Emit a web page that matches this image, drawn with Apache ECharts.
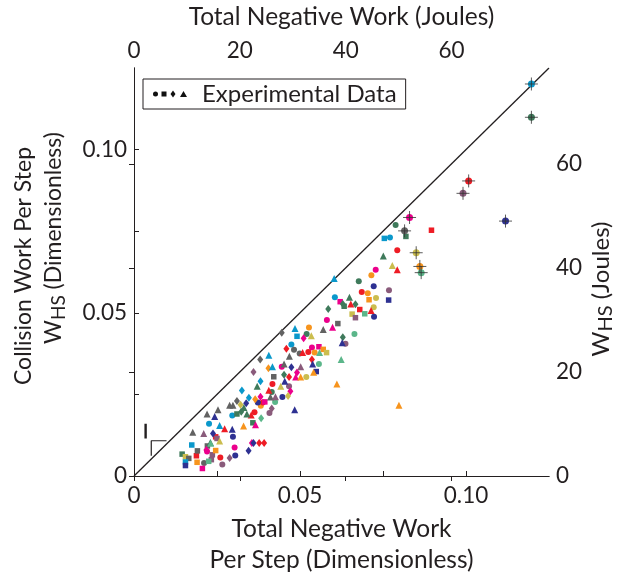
<!DOCTYPE html>
<html>
<head>
<meta charset="utf-8">
<script src="https://cdn.jsdelivr.net/npm/echarts@6/dist/echarts.min.js"></script>
<style>
html,body{margin:0;padding:0;background:#fff;}
#chart{width:617px;height:581px;}
</style>
</head>
<body>
<div id="chart"></div>
<script>
// ---- data (x = total negative work per step, y = collision work per step, subject index) ----
const xTicks = [0, 0.05, 0.10];
const xTickLabels = ['0', '0.05', '0.10'];
const jouleTickLabels = ['0', '20', '40', '60'];
const dimMax = 0.125;
const jouleMax = 78.4;
const legendLabel = 'Experimental Data';

const circles = [
  [0.0788,0.0769,4],[0.0771,0.0731,6],[0.0793,0.0692,0],[0.0728,0.0632,1],[0.0715,0.0615,2],
  [0.0677,0.0597,4],[0.0722,0.0581,7],[0.0768,0.0569,9],[0.0686,0.0564,0],[0.0704,0.0560,2],
  [0.0605,0.0548,6],[0.0729,0.0545,3],[0.0722,0.0517,3],[0.0723,0.0488,7],[0.0581,0.0478,1],
  [0.0527,0.0455,2],[0.0520,0.0435,4],[0.0664,0.0435,5],[0.0637,0.0405,9],[0.0474,0.0403,6],
  [0.0482,0.0387,8],[0.0536,0.0394,1],[0.0525,0.0380,0],[0.0544,0.0378,2],[0.0499,0.0375,8],
  [0.0557,0.0343,5],[0.0445,0.0335,1],[0.0519,0.0303,3],[0.0467,0.0275,9],[0.0417,0.0282,0],
  [0.0415,0.0257,4],[0.0447,0.0242,7],[0.0382,0.0215,2],[0.0388,0.0225,0],[0.0373,0.0225,7],
  [0.0408,0.0193,9],[0.0363,0.0195,0],[0.0296,0.0185,6],[0.0226,0.0160,6],[0.0298,0.0120,7],
  [0.0303,0.0087,1],[0.0220,0.0075,1],[0.0305,0.0063,7],[0.0260,0.0057,0],[0.0266,0.0035,9],
  [0.0211,0.0040,8],[0.0425,0.0227,5]
];
const squares = [
  [0.0896,0.0753,0],[0.0754,0.0728,6],[0.0819,0.0734,4],[0.0708,0.0540,2],[0.0767,0.0539,7],
  [0.0621,0.0534,1],[0.0633,0.0520,4],[0.0680,0.0510,0],[0.0657,0.0496,3],[0.0695,0.0497,5],
  [0.0667,0.0485,9],[0.0614,0.0467,8],[0.0491,0.0428,6],[0.0557,0.0396,1],[0.0570,0.0388,2],
  [0.0580,0.0378,3],[0.0549,0.0320,7],[0.0421,0.0304,8],[0.0358,0.0163,4],[0.0174,0.0095,6],
  [0.0221,0.0092,8],[0.0145,0.0067,4],[0.0155,0.0059,3],[0.0165,0.0054,8],[0.0188,0.0062,0],
  [0.0155,0.0043,6],[0.0155,0.0032,7],[0.0190,0.0042,2],[0.0206,0.0023,1],[0.0236,0.0065,9],
  [0.0233,0.0050,9],[0.0246,0.0078,2],[0.0191,0.0077,8],[0.0394,0.0227,1],[0.0225,0.0045,5],
  [0.0310,0.0190,4],[0.0246,0.0120,0],[0.0250,0.0115,9]
];
const diamonds = [
  [0.0629,0.0527,4],[0.0667,0.0526,4],[0.0585,0.0512,4],[0.0445,0.0439,8],[0.0511,0.0422,1],
  [0.0629,0.0425,4],[0.0459,0.0390,0],[0.0536,0.0357,0],[0.0380,0.0357,8],[0.0360,0.0319,9],
  [0.0405,0.0330,2],[0.0474,0.0333,7],[0.0491,0.0317,1],[0.0467,0.0303,0],[0.0452,0.0310,4],
  [0.0381,0.0290,6],[0.0471,0.0260,1],[0.0325,0.0262,6],[0.0381,0.0243,1],[0.0464,0.0245,3],
  [0.0310,0.0230,8],[0.0346,0.0240,6],[0.0321,0.0218,3],[0.0338,0.0223,7],[0.0365,0.0235,2],
  [0.0415,0.0207,9],[0.0383,0.0177,5],[0.0238,0.0130,7],[0.0355,0.0101,1],[0.0360,0.0101,7],
  [0.0377,0.0101,0],[0.0392,0.0101,0],[0.0345,0.0077,7],[0.0288,0.0055,9],[0.0218,0.0080,1],
  [0.0323,0.0197,4]
];
const triangles = [
  [0.0751,0.0674,4],[0.0778,0.0645,3],[0.0793,0.0632,0],[0.0603,0.0605,6],[0.0649,0.0548,4],
  [0.0653,0.0527,0],[0.0714,0.0507,0],[0.0598,0.0456,1],[0.0570,0.0449,8],[0.0485,0.0452,6],
  [0.0534,0.0430,3],[0.0627,0.0408,7],[0.0508,0.0378,0],[0.0559,0.0378,5],[0.0468,0.0367,8],
  [0.0624,0.0357,5],[0.0406,0.0370,6],[0.0417,0.0335,6],[0.0452,0.0343,8],[0.0502,0.0335,9],
  [0.0538,0.0343,7],[0.0541,0.0318,2],[0.0487,0.0303,1],[0.0502,0.0303,2],[0.0454,0.0290,7],
  [0.0611,0.0282,2],[0.0798,0.0217,2],[0.0371,0.0275,4],[0.0442,0.0275,3],[0.0406,0.0263,0],
  [0.0411,0.0242,8],[0.0426,0.0243,9],[0.0288,0.0217,8],[0.0298,0.0217,8],[0.0220,0.0190,8],
  [0.0243,0.0182,7],[0.0253,0.0203,8],[0.0353,0.0187,0],[0.0330,0.0153,2],[0.0366,0.0157,1],
  [0.0484,0.0203,7],[0.0210,0.0130,9],[0.0296,0.0143,7],[0.0177,0.0134,8],[0.0230,0.0103,4],
  [0.0258,0.0107,3],[0.0231,0.0100,5],[0.0331,0.0210,4],[0.0340,0.0190,4],[0.0258,0.0155,6],
  [0.0273,0.0145,0]
];
const crossed = [
  [0.1197,0.1201,6],[0.1197,0.1099,4],[0.1008,0.0904,0],[0.0991,0.0866,9],[0.1119,0.0781,7],
  [0.0830,0.0792,1],[0.0815,0.0751,8],[0.0850,0.0684,3],[0.0861,0.0642,2],[0.0865,0.0623,5]
];
const identityLine = [[0, 0], [dimMax, dimMax]];
// slope-one marker beside the identity line
const slopeMarker = [[0.0052, 0.0062], [0.0052, 0.0108], [0.0098, 0.0108]];
const slopeBar = [[0.0035, 0.0115], [0.0035, 0.0160]];

// ---- style ----
const palette = ['#ee1c25','#ec008c','#f7941d','#cbbd4e','#3f7a5b','#5bb68a','#0a98cb','#2e3192','#626262','#8a5b7b'];
const FONT = 'Lato, "Open Sans", sans-serif';
const TXT = '#231f20';

function fmtDim(v) {
  for (let i = 0; i < xTicks.length; i++) if (Math.abs(v - xTicks[i]) < 1e-9) return xTickLabels[i];
  return '';
}
function fmtJ(v) {
  const i = jouleTickLabels.indexOf(String(Math.round(v)));
  return (Math.abs(v - Math.round(v)) < 1e-9 && i >= 0) ? jouleTickLabels[i] : '';
}
const colorOf = p => palette[p.data[2]];

const chart = echarts.init(document.getElementById('chart'), null, {renderer: 'canvas'});
const axisCommon = {
  axisLine: {show: true, lineStyle: {color: '#231f20', width: 1}},
  axisTick: {show: true, inside: true, length: 5, lineStyle: {color: '#231f20', width: 1}},
  splitLine: {show: false},
  axisLabel: {color: TXT, fontFamily: FONT, fontSize: 22.5, showMaxLabel: false},
};
function scatterSeries(data, symbol, size) {
  return {
    type: 'scatter', name: legendLabel, data: data, symbol: symbol, symbolSize: size,
    itemStyle: {color: colorOf, borderWidth: 0, opacity: 1}, z: 3
  };
}
const legendIcon = 'path://M0.5,3.5 A2.5,2.5 0 1,0 5.5,3.5 A2.5,2.5 0 1,0 0.5,3.5 Z M9,1 H14 V6 H9 Z M20.5,0 L23,3.5 L20.5,7 L18,3.5 Z M31,0.5 L34.5,6.5 L27.5,6.5 Z';
const subRich = {
  w: {fontFamily: FONT, fontSize: 24, lineHeight: 30, fill: TXT},
  s: {fontFamily: FONT, fontSize: 20, lineHeight: 20, verticalAlign: 'bottom', fill: TXT}
};

chart.setOption({
  animation: false,
  backgroundColor: '#fff',
  grid: {left: 134, right: 68, top: 68, bottom: 96, containLabel: false},
  legend: {
    data: [{name: legendLabel, icon: legendIcon, itemStyle: {color: '#111'}}],
    left: 143, top: 79, orient: 'horizontal',
    itemWidth: 34, itemHeight: 7, itemGap: 0,
    padding: [2, 9, 2, 10],
    borderColor: '#231f20', borderWidth: 1, backgroundColor: '#fff',
    selectedMode: false,
    textStyle: {color: TXT, fontFamily: FONT, fontSize: 24, lineHeight: 26, padding: [0, 0, 0, 10]}
  },
  xAxis: [
    Object.assign({}, axisCommon, {
      type: 'value', position: 'bottom', min: 0, max: dimMax, interval: 0.025,
      axisLabel: Object.assign({}, axisCommon.axisLabel, {formatter: fmtDim, margin: 8}),
      name: 'Total Negative Work\nPer Step (Dimensionless)', nameLocation: 'middle', nameGap: 38,
      nameTextStyle: {color: TXT, fontFamily: FONT, fontSize: 24.5, lineHeight: 31}
    }),
    Object.assign({}, axisCommon, {
      type: 'value', position: 'top', min: 0, max: jouleMax, interval: 20,
      axisLabel: Object.assign({}, axisCommon.axisLabel, {formatter: fmtJ, margin: 6}),
      name: 'Total Negative Work (Joules)', nameLocation: 'middle', nameGap: 38,
      nameTextStyle: {color: TXT, fontFamily: FONT, fontSize: 24.5}
    })
  ],
  yAxis: [
    Object.assign({}, axisCommon, {
      type: 'value', position: 'left', min: 0, max: dimMax, interval: 0.025,
      axisLabel: Object.assign({}, axisCommon.axisLabel, {formatter: fmtDim, margin: 7})
    }),
    Object.assign({}, axisCommon, {
      type: 'value', position: 'right', min: 0, max: jouleMax, interval: 20,
      axisLabel: Object.assign({}, axisCommon.axisLabel, {formatter: fmtJ, margin: 7})
    })
  ],
  graphic: [
    {type: 'text', x: 24, y: 266, rotation: Math.PI / 2, silent: true,
     style: {text: 'Collision Work Per Step', font: '23px ' + FONT, fill: TXT, align: 'center', verticalAlign: 'middle'}},
    {type: 'text', x: 54, y: 238, rotation: Math.PI / 2, silent: true,
     style: {text: '{w|W}{s|HS} (Dimensionless)', font: '23px ' + FONT, fill: TXT, align: 'center', verticalAlign: 'middle',
       rich: {w: {fontFamily: FONT, fontSize: 23, lineHeight: 28, fill: TXT},
              s: {fontFamily: FONT, fontSize: 19, lineHeight: 19, verticalAlign: 'bottom', fill: TXT}}}},
    {type: 'text', x: 601, y: 289, rotation: Math.PI / 2, silent: true,
     style: {text: '{w|W}{s|HS} (Joules)', font: '24px ' + FONT, fill: TXT, align: 'center', verticalAlign: 'middle',
       rich: subRich}}
  ],
  series: [
    {type: 'line', data: identityLine, symbol: 'none', silent: true, z: 2,
     lineStyle: {color: '#231f20', width: 1.3}},
    {type: 'line', data: slopeMarker, symbol: 'none', silent: true, z: 2,
     lineStyle: {color: '#231f20', width: 1.2}},
    {type: 'line', data: slopeBar, symbol: 'none', silent: true, z: 2,
     lineStyle: {color: '#231f20', width: 2.4}},
    scatterSeries(circles, 'circle', 6),
    scatterSeries(squares, 'rect', 5.5),
    scatterSeries(diamonds, 'diamond', [6, 8]),
    scatterSeries(triangles, 'triangle', 7),
    scatterSeries(crossed, 'circle', 7),
    {type: 'scatter', name: legendLabel, data: crossed, symbol: 'path://M6,0 L6,12 M0,6 L12,6', symbolSize: 13,
     itemStyle: {color: 'none', borderColor: '#333', borderWidth: 1}, z: 4}
  ]
});
</script>
</body>
</html>
